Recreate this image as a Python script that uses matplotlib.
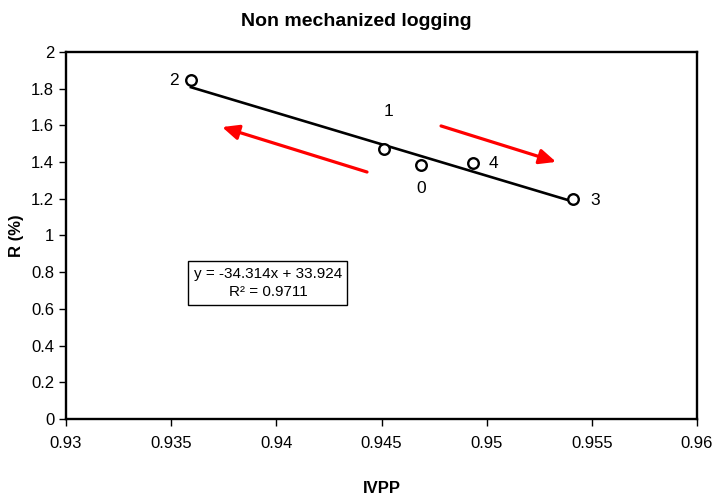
import matplotlib
matplotlib.use("Agg")
import matplotlib.pyplot as plt
import numpy as np

plt.rcParams['font.family'] = ['Liberation Sans', 'DejaVu Sans']

# Observations
point_ids = ["0", "1", "2", "3", "4"]
ivpp = [0.94688, 0.94512, 0.93594, 0.95410, 0.94935]
r_pct = [1.384, 1.471, 1.847, 1.199, 1.395]

# Linear trend (stated in the box)
slope = -34.314
intercept = 33.924
r_squared = 0.9711

x_ticks = [0.93, 0.935, 0.94, 0.945, 0.95, 0.955, 0.96]
x_tick_labels = ["0.93", "0.935", "0.94", "0.945", "0.95", "0.955", "0.96"]
y_ticks = [0, 0.2, 0.4, 0.6, 0.8, 1, 1.2, 1.4, 1.6, 1.8, 2]
y_tick_labels = ["0", "0.2", "0.4", "0.6", "0.8", "1", "1.2", "1.4", "1.6", "1.8", "2"]

fig = plt.figure(figsize=(7.16, 5.04), dpi=100)
ax = fig.add_axes([0.0922, 0.1687, 0.8813, 0.7281])

# trend line across the data range
xs = np.array([min(ivpp), max(ivpp)])
ax.plot(xs, slope * xs + intercept, color="black", lw=1.9, zorder=2)

ax.scatter(ivpp, r_pct, s=58, facecolors="white", edgecolors="black",
           linewidths=1.7, zorder=3)

# point labels
label_offsets = {"0": (0, -17), "1": (3, 27), "2": (-12, 0), "3": (16, -1), "4": (15, 0)}
for pid, x, y in zip(point_ids, ivpp, r_pct):
    dx, dy = label_offsets[pid]
    ax.annotate(pid, (x, y), xytext=(dx, dy), textcoords="offset points",
                ha="center", va="center", fontsize=12.5)

# direction arrows
arrow_style = dict(arrowstyle="-|>,head_length=1.0,head_width=0.45",
                   color="red", lw=2.3, shrinkA=0, shrinkB=0)
ax.annotate("", xy=(0.93742, 1.591), xytext=(0.94431, 1.346), arrowprops=arrow_style)
ax.annotate("", xy=(0.95330, 1.401), xytext=(0.94783, 1.597), arrowprops=arrow_style)

ax.text(0.9396, 0.741,
        f"y = {slope}x + {intercept}\nR² = {r_squared}",
        ha="center", va="center", fontsize=11, linespacing=1.4,
        bbox=dict(boxstyle="square,pad=0.35", facecolor="white",
                  edgecolor="black", lw=1.0))

ax.set_xlim(0.93, 0.96)
ax.set_ylim(0, 2)
ax.set_xticks(x_ticks)
ax.set_xticklabels(x_tick_labels)
ax.set_yticks(y_ticks)
ax.set_yticklabels(y_tick_labels)
ax.tick_params(direction="out", length=5, width=1, labelsize=12, colors="black")
ax.tick_params(axis="x", pad=7)
for sp in ax.spines.values():
    sp.set_linewidth(1.7)

ax.set_xlabel("IVPP", fontsize=12, fontweight="bold", labelpad=22)
ax.set_ylabel("R (%)", fontsize=12, fontweight="bold", labelpad=5)
fig.text(0.497, 0.958, "Non mechanized logging", ha="center", va="center",
         fontsize=14, fontweight="bold")

fig.savefig("out.png", dpi=100)
